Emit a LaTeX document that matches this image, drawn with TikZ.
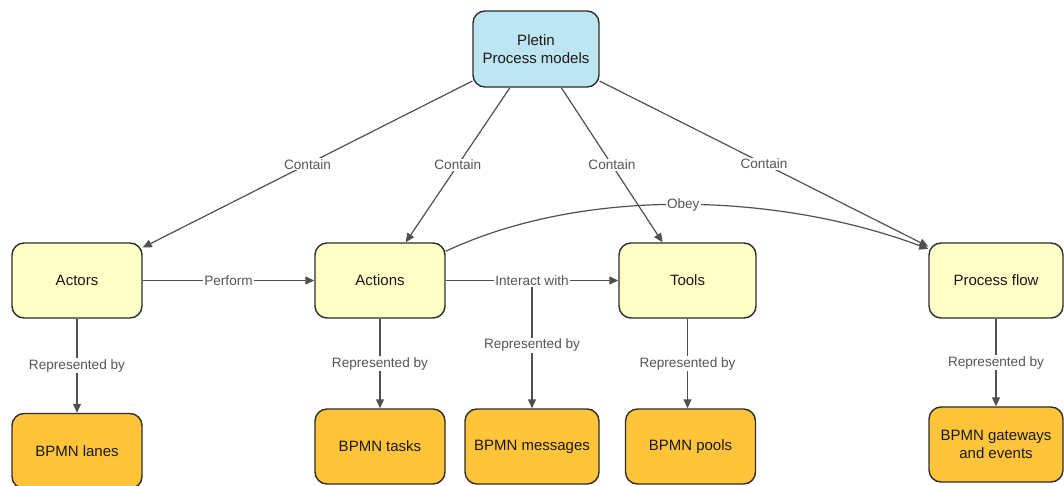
\documentclass[tikz,border=0pt]{standalone}
\usepackage{fontspec}
\setmainfont{Liberation Sans}
\usetikzlibrary{arrows.meta}

\definecolor{topfill}{RGB}{190,229,242}
\definecolor{mainfill}{RGB}{255,255,200}
\definecolor{bpmnfill}{RGB}{255,196,58}
\definecolor{edgegray}{RGB}{80,80,80}
\definecolor{labelgray}{RGB}{85,85,85}
\definecolor{bordergray}{RGB}{45,45,45}

\tikzset{
  box/.style={draw=bordergray, line width=1.4pt, rounded corners=12pt, align=center,
    font=\fontsize{15}{18}\selectfont, text=black!90, inner sep=2pt},
  topbox/.style={box, fill=topfill, minimum width=126pt, minimum height=76pt},
  mainbox/.style={box, fill=mainfill, minimum width=130pt, minimum height=75pt},
  bpmnbox/.style={box, fill=bpmnfill, minimum width=130pt, minimum height=75pt},
  link/.style={draw=edgegray, line width=1.2pt, -{Triangle[length=9pt,width=8pt]}},
  lbl/.style={fill=white, text=labelgray, font=\fontsize{13.6}{16}\selectfont, inner sep=1pt},
}

\begin{document}
\begin{tikzpicture}[x=1pt, y=-1pt]
  \useasboundingbox (0,0) rectangle (1064,486);
  \clip (0,0) rectangle (1064,486);

  % concept nodes
  \node[topbox] (top) at (536,49) {Pletin\\Process models};
  \node[mainbox] (actors) at (77,280.5) {Actors};
  \node[mainbox] (actions) at (380,280.5) {Actions};
  \node[mainbox, minimum width=137pt] (tools) at (687.5,280.5) {Tools};
  \node[mainbox, minimum width=134pt] (flow) at (996,280.5) {Process flow};

  % BPMN elements
  \node[bpmnbox] (lanes) at (77,451) {BPMN lanes};
  \node[bpmnbox] (tasks) at (380,446.5) {BPMN tasks};
  \node[bpmnbox, minimum width=134pt] (messages) at (532,446.5) {BPMN messages};
  \node[bpmnbox] (pools) at (690.5,446.5) {BPMN pools};
  \node[bpmnbox, minimum width=134pt] (gateways) at (996,444.5) {BPMN gateways\\and events};

  % containment
  \draw[link] (top) -- node[lbl] {Contain} (actors);
  \draw[link] (top) -- node[lbl] {Contain} (actions);
  \draw[link] (top) -- node[lbl] {Contain} (tools);
  \draw[link] (top) -- node[lbl] {Contain} (flow);

  % relations between concepts
  \draw[link] (actors) -- node[lbl] {Perform} (actions);
  \draw[link] (actions) -- node[lbl] (interact) {Interact with} (tools);
  \draw[link] (actions.24) .. controls (585,186) and (779,193) .. node[lbl, pos=0.5] {Obey} (flow.155);

  % representation in BPMN
  \draw[link] (actors) -- node[lbl] {Represented by} (lanes);
  \draw[link] (actions) -- node[lbl] {Represented by} (tasks);
  \draw[link] (interact.south) -- node[lbl, pos=0.48] {Represented by} (interact.south |- messages.north);
  \draw[link] (tools.south) -- node[lbl] {Represented by} (tools.south |- pools.north);
  \draw[link] (flow) -- node[lbl] {Represented by} (gateways);
\end{tikzpicture}
\end{document}
